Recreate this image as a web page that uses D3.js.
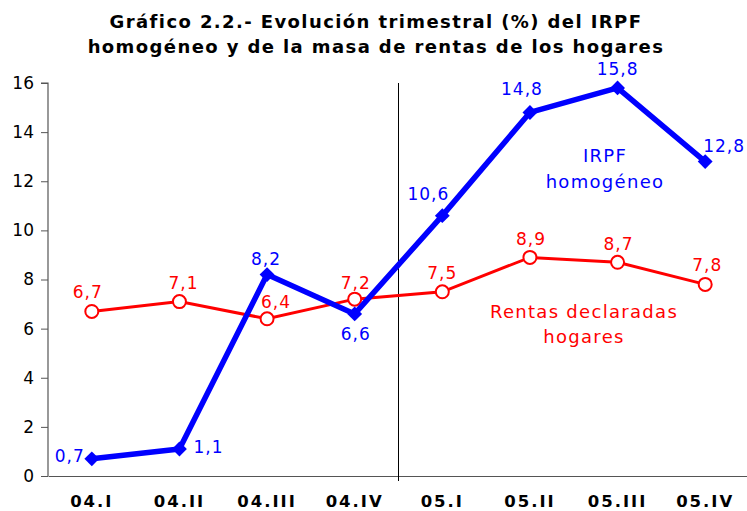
<!DOCTYPE html>
<html><head><meta charset="utf-8">
<script src="https://cdn.jsdelivr.net/npm/d3@7"></script>
<style>body{margin:0;background:#fff}svg{display:block}</style>
</head><body>
<script>
const categories = ["04.I","04.II","04.III","04.IV","05.I","05.II","05.III","05.IV"];
const irpf = [0.7,1.1,8.2,6.6,10.6,14.8,15.8,12.8];
const rentas = [6.7,7.1,6.4,7.2,7.5,8.9,8.7,7.8];
const yTicks = [0,2,4,6,8,10,12,14,16];
const titleLines = ["Gráfico 2.2.- Evolución trimestral (%) del IRPF","homogéneo y de la masa de rentas de los hogares"];

// label layout (anchor, dx, dy) — placement only
const irpfLabelLayout = [["end",-7,3],["start",14,4],["middle",-1,-10],["middle",1,26],["middle",-14,-16],["middle",-8,-17],["middle",0,-13],["start",-2,-10]];
const rentasLabelLayout = [["middle",-4,-13],["middle",4,-13],["middle",9,-11],["middle",1,-10],["middle",0,-13],["middle",1,-12],["middle",1,-12],["middle",2,-13]];

const W=747,H=511;
const svg=d3.select("body").append("svg").attr("width",W).attr("height",H);
const font="'DejaVu Sans', Verdana, sans-serif";
const x0=48, x1=749, yTop=83, yBot=476;
const x=d3.scaleBand().domain(categories).range([x0,x1]);
const y=d3.scaleLinear().domain([0,16]).range([yBot,yTop]);
const cx=c=>x(c)+x.bandwidth()/2;
const fmt=d=>d3.format(".1f")(d).replace(".",",");

// title
svg.append("g").selectAll("text").data(titleLines).join("text")
  .attr("x",376).attr("y",(d,i)=>28+i*25).attr("text-anchor","middle")
  .attr("font-family",font).attr("font-weight","bold").attr("font-size",18).attr("letter-spacing","1.4px").attr("fill","#000")
  .text(d=>d);

// y axis
const ya=svg.append("g").attr("transform",`translate(${x0},0)`)
  .call(d3.axisLeft(y).tickValues(yTicks).tickSize(7).tickPadding(7).tickFormat(d3.format("d")));
ya.select(".domain").attr("stroke","#555").attr("stroke-width",1.2).attr("d",`M-7,${yTop}H0V${yBot}`);
ya.selectAll(".tick line").attr("stroke","#555");
ya.selectAll(".tick text").attr("font-family",font).attr("font-size",17).attr("fill","#000");

// x axis
const xa=svg.append("g").attr("transform",`translate(0,${yBot})`)
  .call(d3.axisBottom(x).tickSize(0).tickPadding(19));
xa.select(".domain").attr("stroke","#555").attr("stroke-width",1.2);
xa.selectAll(".tick text").attr("font-family",font).attr("font-size",16.5).attr("font-weight","bold")
  .attr("fill","#000").attr("letter-spacing","2px");

// separator
const sep=x(categories[4]);
svg.append("line").attr("x1",sep).attr("x2",sep).attr("y1",yTop).attr("y2",yBot+5)
  .attr("stroke","#000").attr("stroke-width",1);

const line=d3.line().x((d,i)=>cx(categories[i])).y(d=>y(d));

function placeLabel(t,l,px,py){
  t.attr("x",px+l[1]).attr("y",py+l[2]).attr("text-anchor",l[0]);
}

// red series
svg.append("path").datum(rentas).attr("d",line).attr("fill","none").attr("stroke","#ff0000").attr("stroke-width",3);
svg.append("g").selectAll("circle").data(rentas).join("circle")
  .attr("cx",(d,i)=>cx(categories[i])).attr("cy",d=>y(d)).attr("r",6.5)
  .attr("fill","#fff").attr("stroke","#ff0000").attr("stroke-width",2);
svg.append("g").selectAll("text").data(rentas).join("text")
  .each(function(d,i){placeLabel(d3.select(this),rentasLabelLayout[i],cx(categories[i]),y(d));})
  .attr("font-family",font).attr("font-size",17).attr("fill","#ff0000").attr("letter-spacing","1px")
  .text(fmt);

// blue series
svg.append("path").datum(irpf).attr("d",line).attr("fill","none").attr("stroke","#0000ff").attr("stroke-width",5.5).attr("stroke-linejoin","round");
svg.append("g").selectAll("path").data(irpf).join("path")
  .attr("d",d3.symbol(d3.symbolSquare,110)())
  .attr("transform",(d,i)=>`translate(${cx(categories[i])},${y(d)}) rotate(45)`)
  .attr("fill","#0000ff");
svg.append("g").selectAll("text").data(irpf).join("text")
  .each(function(d,i){placeLabel(d3.select(this),irpfLabelLayout[i],cx(categories[i]),y(d));})
  .attr("font-family",font).attr("font-size",17).attr("fill","#0000ff").attr("letter-spacing","1px")
  .text(fmt);

// annotations
svg.append("g").selectAll("text").data(["IRPF","homogéneo"]).join("text")
  .attr("x",605).attr("y",(d,i)=>162+i*26).attr("text-anchor","middle")
  .attr("font-family",font).attr("font-size",18).attr("letter-spacing","1.3px").attr("fill","#0000ff").text(d=>d);
svg.append("g").selectAll("text").data(["Rentas declaradas","hogares"]).join("text")
  .attr("x",584).attr("y",(d,i)=>318+i*25).attr("text-anchor","middle")
  .attr("font-family",font).attr("font-size",18).attr("letter-spacing","1.3px").attr("fill","#ff0000").text(d=>d);
</script>
</body></html>
